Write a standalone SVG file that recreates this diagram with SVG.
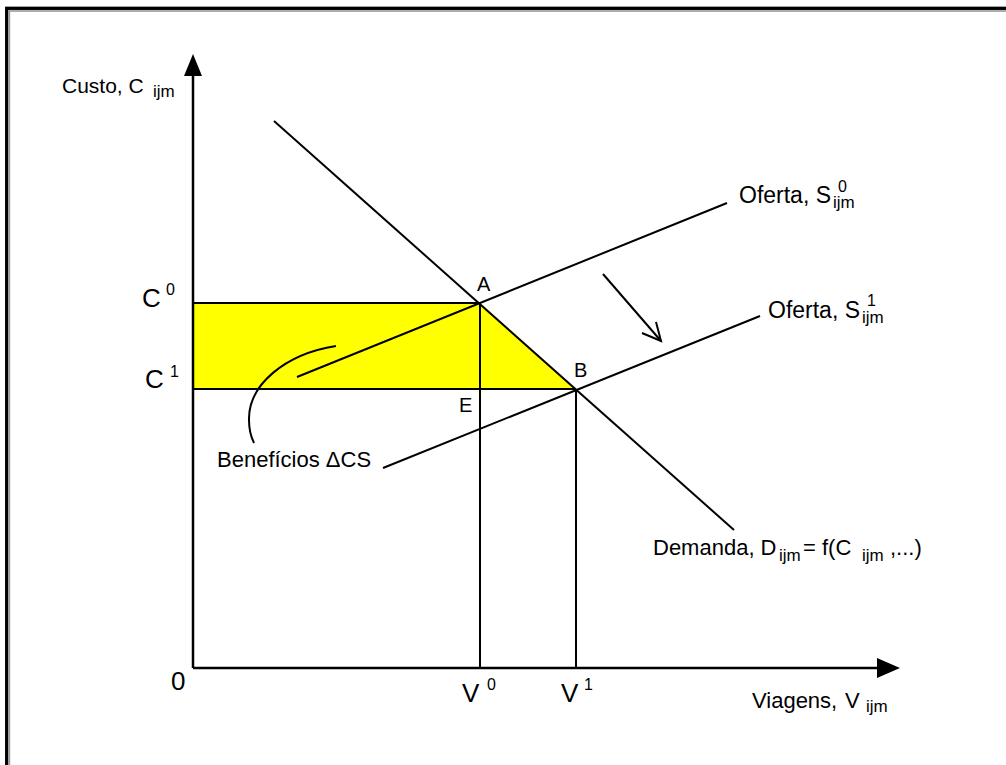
<svg xmlns="http://www.w3.org/2000/svg" width="1006" height="765" viewBox="0 0 1006 765">
<style>
.ln{stroke:#000;stroke-width:2;fill:none}
.ax{stroke:#000;stroke-width:2.5;fill:none}
.t{font-family:"Liberation Sans",Arial,sans-serif;fill:#000}
.m{font-size:23px}
.b{font-size:26px}
.s{font-size:17px}
.d{font-size:16px}
.p{font-size:20px}
</style>
<rect width="1006" height="765" fill="#fff"/>
<g id="frame">
<rect x="6.7" y="8.3" width="1100" height="900" fill="none" stroke="#000" stroke-width="3.3"/>
<rect x="9.4" y="11" width="1100" height="900" fill="none" stroke="#999" stroke-width="1.6"/>
</g>
<g id="area">
<polygon points="193,303 480,303 576,389 193,389" fill="#ffff00"/>
</g>
<g id="connectors">
<line class="ln" x1="193" y1="303" x2="480" y2="303"/>
<line class="ln" x1="193" y1="389" x2="576" y2="389"/>
<line class="ln" x1="480" y1="303" x2="480" y2="668"/>
<line class="ln" x1="576" y1="389" x2="576" y2="668"/>
<line class="ln" x1="274" y1="121" x2="734" y2="530"/>
<line class="ln" x1="297" y1="377" x2="727" y2="203"/>
<line class="ln" x1="383" y1="468" x2="760" y2="316"/>
<path class="ln" d="M336,346 C285,354 248,385 249,420 C249,430 251,437 254,443"/>
<line class="ln" x1="603" y1="274" x2="661" y2="341"/>
<polyline class="ln" points="642,333 661,341 656,322"/>
<line class="ax" x1="193" y1="668" x2="193" y2="74"/>
<polygon points="193,54 184,76 202,76" fill="#000"/>
<line class="ax" x1="193" y1="668" x2="879" y2="668"/>
<polygon points="900,668 877,658 877,678" fill="#000"/>
</g>
<g id="labels">
<text class="t" x="62" y="93" font-size="21">Custo, C</text>
<text class="t s" x="153" y="97">ijm</text>
<text class="t b" x="142" y="307">C</text>
<text class="t d" x="166" y="295">0</text>
<text class="t b" x="145" y="388">C</text>
<text class="t d" x="170" y="377">1</text>
<text class="t p" x="477" y="291">A</text>
<text class="t p" x="574" y="377">B</text>
<text class="t p" x="459" y="412">E</text>
<text class="t m" x="739" y="203">Oferta, S</text>
<text class="t d" x="838" y="192">0</text>
<text class="t s" x="833" y="208">ijm</text>
<text class="t m" x="768" y="318">Oferta, S</text>
<text class="t d" x="867" y="306">1</text>
<text class="t s" x="862" y="323">ijm</text>
<text class="t" x="217" y="467" font-size="22">Benefícios ΔCS</text>
<text class="t" x="653" y="555" font-size="22">Demanda, D<tspan class="s" x="779" y="561">ijm</tspan><tspan x="803" y="555">= f(C</tspan><tspan class="s" x="862" y="561">ijm</tspan><tspan x="890" y="555">,...)</tspan></text>
<text class="t b" x="171" y="690">0</text>
<text class="t b" x="462" y="702">V</text>
<text class="t d" x="487" y="690">0</text>
<text class="t b" x="561" y="702">V</text>
<text class="t d" x="584" y="690">1</text>
<text class="t" x="752" y="708" font-size="22">Viagens,<tspan x="845">V</tspan><tspan class="s" x="866" y="712">ijm</tspan></text>
</g>
</svg>
